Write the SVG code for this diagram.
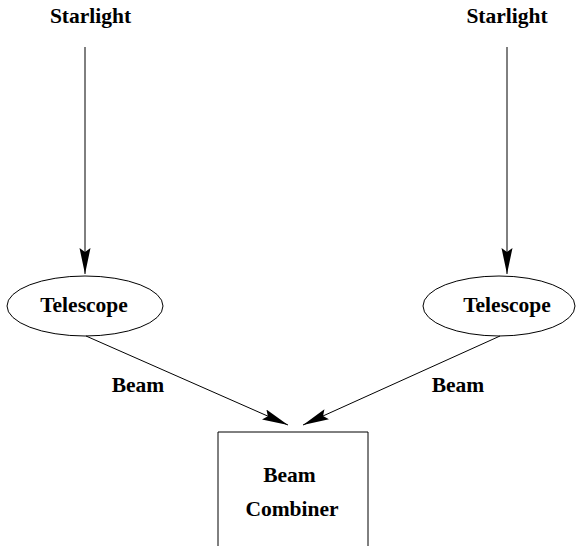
<svg xmlns="http://www.w3.org/2000/svg" width="576" height="546" viewBox="0 0 576 546">
<style>
text{font-family:"Liberation Serif","Times New Roman",serif;font-weight:bold;font-size:21.5px;fill:#000;text-anchor:middle}
.s{fill:none;stroke:#000;stroke-width:1}
.e{stroke:#000;stroke-width:1;fill:none}
</style>
<defs>
<marker id="ah" markerWidth="28" markerHeight="12" refX="26" refY="5.5" orient="auto" markerUnits="userSpaceOnUse">
<path d="M0,0 L26,5.5 L0,11 L4,5.5 Z" fill="#000"/>
</marker>
</defs>
<rect width="576" height="546" fill="#fff"/>
<g id="star1"><text x="90.5" y="23">Starlight</text></g>
<g id="star2"><text x="507" y="23">Starlight</text></g>
<g id="tel1"><ellipse class="s" cx="85" cy="306" rx="78" ry="30"/><text x="84" y="312">Telescope</text></g>
<g id="tel2"><ellipse class="s" cx="499" cy="306" rx="76" ry="30"/><text x="507" y="312">Telescope</text></g>
<g id="combiner"><path class="s" d="M218,546 V432 H368 V546"/><text x="289.5" y="482">Beam</text><text x="292" y="516">Combiner</text></g>
<g id="connectors">
<line class="e" x1="85" y1="47" x2="85" y2="274" marker-end="url(#ah)"/>
<line class="e" x1="507" y1="47" x2="507" y2="274" marker-end="url(#ah)"/>
<line class="e" x1="86" y1="336" x2="288" y2="425" marker-end="url(#ah)"/>
<line class="e" x1="500" y1="336" x2="303" y2="425" marker-end="url(#ah)"/>
<text x="138" y="392">Beam</text>
<text x="458" y="392">Beam</text>
</g>
</svg>
